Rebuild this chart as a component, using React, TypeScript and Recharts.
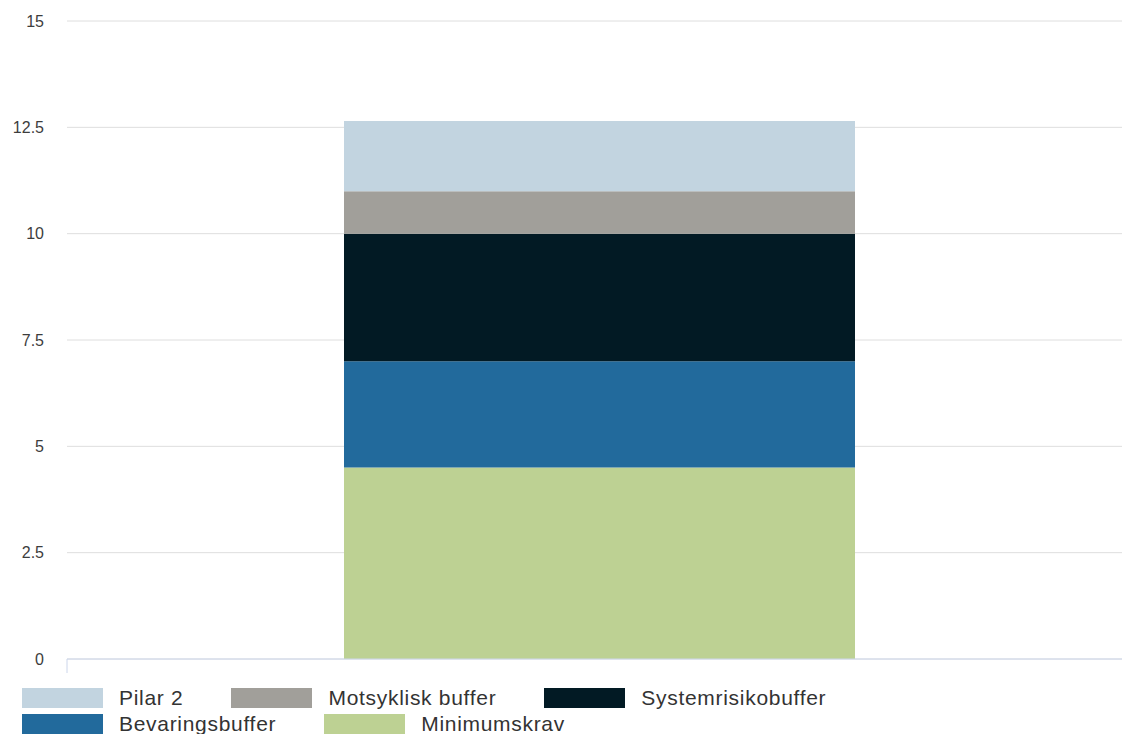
import React from "react";
import { BarChart, Bar, XAxis, YAxis, CartesianGrid } from "recharts";

const categories = ["Krav"];
const minimumskrav = [4.5];
const bevaringsbuffer = [2.5];
const systemrisikobuffer = [3];
const motsykliskBuffer = [1];
const pilar2 = [1.65];
const yTicks = [0, 2.5, 5, 7.5, 10, 12.5, 15];

// stack order, bottom to top
const series = [
  { key: "minimumskrav", name: "Minimumskrav", values: minimumskrav, color: "#bdd193" },
  { key: "bevaringsbuffer", name: "Bevaringsbuffer", values: bevaringsbuffer, color: "#226a9c" },
  { key: "systemrisikobuffer", name: "Systemrisikobuffer", values: systemrisikobuffer, color: "#021a24" },
  { key: "motsyklisk", name: "Motsyklisk buffer", values: motsykliskBuffer, color: "#a19f9a" },
  { key: "pilar2", name: "Pilar 2", values: pilar2, color: "#c2d4e0" },
];

const rows = categories.map((c, i) => {
  const row: Record<string, number | string> = { label: c };
  series.forEach((s) => {
    row[s.key] = s.values[i];
  });
  return row;
});

const FONT = "Arial, 'Liberation Sans', Helvetica, sans-serif";

// Highcharts-style tick on the category boundary, no label
function BoundaryTick(props: any) {
  const { x, y, payload } = props;
  const bx = x - (payload?.offset ?? 0);
  return <line x1={bx} x2={bx} y1={y - 8} y2={y + 6} stroke="#ccd6eb" strokeWidth={1} />;
}

function Legend() {
  const items = [...series].reverse();
  return (
    <div
      style={{
        position: "absolute",
        top: 685,
        left: 22,
        width: 1090,
        display: "flex",
        flexWrap: "wrap",
        fontFamily: FONT,
        fontSize: 21,
        letterSpacing: 0.7,
        color: "#333333",
      }}
    >
      {items.map((s) => (
        <div key={s.key} style={{ display: "flex", alignItems: "center", height: 26, marginRight: 48 }}>
          <span style={{ display: "inline-block", width: 81, height: 20, background: s.color, marginRight: 16 }} />
          <span style={{ lineHeight: "26px" }}>{s.name}</span>
        </div>
      ))}
    </div>
  );
}

export default function App() {
  return (
    <div style={{ position: "absolute", top: 0, left: 0, width: 1122, height: 734, overflow: "hidden", background: "#fff" }}>
      <BarChart
        width={1132}
        height={681}
        data={rows}
        margin={{ top: 21, right: 0, left: 0, bottom: 6 }}
        barCategoryGap={277}
      >
        <CartesianGrid vertical={false} stroke="#dedede" />
        <YAxis
          width={67}
          domain={[0, 15]}
          ticks={yTicks}
          interval={0}
          axisLine={false}
          tickLine={false}
          tickMargin={17}
          tick={{ fontSize: 16, fill: "#3d3d3d", fontFamily: FONT }}
        />
        <XAxis
          dataKey="label"
          height={16}
          axisLine={{ stroke: "#ccd6eb" }}
          tickLine={false}
          tick={<BoundaryTick />}
        />
        {series.map((s) => (
          <Bar key={s.key} dataKey={s.key} name={s.name} stackId="a" fill={s.color} isAnimationActive={false} />
        ))}
      </BarChart>
      <Legend />
    </div>
  );
}
